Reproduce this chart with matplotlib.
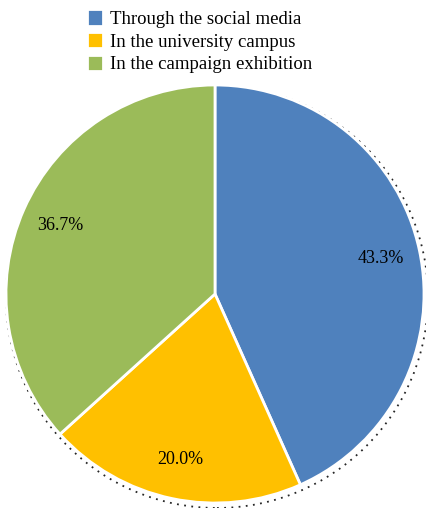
import matplotlib.pyplot as plt
from matplotlib.patches import Circle

# share of respondents by where they heard about the campaign
places = ["Through the social media", "In the university campus", "In the campaign exhibition"]
shares = [43.3, 20.0, 36.7]
colors = ["#4F81BD", "#FFC000", "#9BBB59"]

plt.rcParams['font.family'] = ['Liberation Serif', 'DejaVu Serif']

fig = plt.figure(figsize=(4.27, 5.08), dpi=100)
ax = fig.add_axes([0, 0, 1, 1])

cx, cy, r = 215, 214, 209

# grainy shadow round the rim
ax.add_patch(Circle((cx + 2, cy - 3), r + 2, fill=False, ec='black', lw=1.3,
                    ls=(0, (1, 3)), alpha=0.85, zorder=0))

wedges, texts, autotexts = ax.pie(shares, colors=colors, startangle=90, counterclock=False,
                                  center=(cx, cy), radius=r, autopct='%.1f%%', pctdistance=0.81,
                                  wedgeprops=dict(edgecolor='white', linewidth=2),
                                  textprops=dict(fontsize=13, color='black'), frame=True)
ax.set_xlim(0, 427)
ax.set_ylim(0, 508)
ax.axis('off')

ax.legend(wedges, places, loc='upper left', bbox_to_anchor=(78 / 427, 1.0), frameon=False,
          fontsize=13.5, handlelength=0.85, handleheight=0.95, handletextpad=0.35,
          labelspacing=0.22, borderaxespad=0.1)

fig.savefig('out.png', dpi=100)
